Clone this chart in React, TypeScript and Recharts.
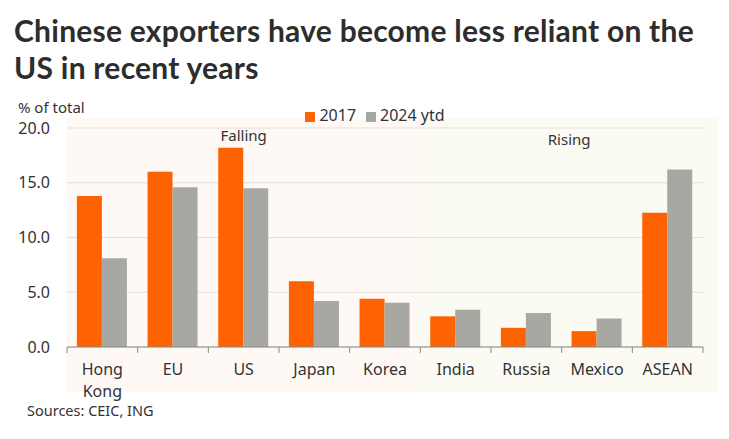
import React from 'react';
import { BarChart, Bar, XAxis, YAxis, CartesianGrid, ReferenceArea, Legend } from 'recharts';

const categories = ['Hong Kong', 'EU', 'US', 'Japan', 'Korea', 'India', 'Russia', 'Mexico', 'ASEAN'];
const values2017 = [13.8, 16.0, 18.2, 6.0, 4.4, 2.8, 1.75, 1.45, 12.25];
const values2024 = [8.1, 14.6, 14.5, 4.2, 4.05, 3.4, 3.1, 2.6, 16.2];
const yTicks = [0, 5, 10, 15, 20];

const data = categories.map((c, i) => ({ name: c, y2017: values2017[i], y2024: values2024[i] }));

const FONT = '"Noto Sans", sans-serif';
const TEXT = '#333333';

const XTick = (props: any) => {
  const { x, y, payload } = props;
  const off = payload && typeof payload.offset === 'number' && payload.offset > 0 ? payload.offset : 35.33;
  const words = String(payload.value).split(' ');
  return (
    <g>
      <line x1={x - off} x2={x - off} y1={y} y2={y + 6} stroke="#8a8a8a" strokeWidth={1} />
      {payload.value === 'ASEAN' && (
        <line x1={x + off} x2={x + off} y1={y} y2={y + 6} stroke="#8a8a8a" strokeWidth={1} />
      )}
      <text x={x} y={y + 28} textAnchor="middle" fill={TEXT} fontSize={16} fontFamily={FONT}>
        {words.map((w, i) => (
          <tspan key={i} x={x} dy={i === 0 ? 0 : 22}>{w}</tspan>
        ))}
      </text>
    </g>
  );
};

const ShadeShape = (extra: number) => (props: any) => {
  const { x, y, width, height, fill, fillOpacity } = props;
  return <rect x={x} y={y} width={width + extra} height={height} fill={fill} fillOpacity={fillOpacity} />;
};

export default function App() {
  return (
    <div style={{ position: 'absolute', left: 0, top: 0, width: 729, height: 439, background: '#fff', fontFamily: FONT }}>
      <div
        style={{
          position: 'absolute',
          left: 14,
          top: 12,
          fontFamily: 'Lato, sans-serif',
          fontWeight: 700,
          fontSize: 30,
          lineHeight: '36.5px',
          letterSpacing: 0.25,
          color: '#2d2d2d',
          whiteSpace: 'nowrap',
        }}
      >
        Chinese exporters have become less reliant on the
        <br />
        US in recent years
      </div>
      <div style={{ position: 'absolute', left: 18, top: 97, fontSize: 15, color: TEXT }}>% of total</div>
      <div style={{ position: 'absolute', left: 27, top: 400, fontSize: 14.5, color: TEXT }}>Sources: CEIC, ING</div>
      <BarChart
        width={729}
        height={439}
        data={data}
        margin={{ top: 128, right: 26, bottom: 62, left: 0 }}
        barCategoryGap="14%"
        barGap={0}
      >
        <ReferenceArea
          x1="Hong Kong"
          x2="Korea"
          y1={20.9}
          y2={-4.1}
          ifOverflow="visible"
          fill="#FF6200"
          fillOpacity={0.035}
          stroke="none"
          label={{ value: 'Falling', position: 'insideTop', offset: 12, fill: TEXT, fontSize: 15, fontFamily: FONT }}
        />
        <ReferenceArea
          x1="India"
          x2="ASEAN"
          y1={20.9}
          y2={-4.1}
          ifOverflow="visible"
          fill="#C8C864"
          fillOpacity={0.08}
          stroke="none"
          shape={ShadeShape(15)}
        />
        <ReferenceArea
          x1="India"
          x2="ASEAN"
          y1={20.9}
          y2={-4.1}
          ifOverflow="visible"
          fill="none"
          fillOpacity={0}
          stroke="none"
          shape={(p: any) => (
            <text x={p.x + (p.width + 15) / 2} y={p.y + 27} textAnchor="middle" fill={TEXT} fontSize={15} fontFamily={FONT}>Rising</text>
          )}
        />
        <CartesianGrid vertical={false} stroke="#e3e3e3" />
        <XAxis
          dataKey="name"
          interval={0}
          height={30}
          axisLine={{ stroke: '#8a8a8a' }}
          tickLine={false}
          tickSize={0}
          tickMargin={0}
          tick={<XTick />}
        />
        <YAxis
          width={67}
          domain={[0, 20]}
          ticks={yTicks}
          axisLine={false}
          tickLine={false}
          tickSize={6}
          tickMargin={11}
          tickFormatter={(v: number) => v.toFixed(1)}
          tick={{ fill: TEXT, fontSize: 16, fontFamily: FONT }}
        />
        <Legend
          verticalAlign="middle"
          align="center"
          layout="horizontal"
          iconType="square"
          iconSize={10}
          wrapperStyle={{ position: 'absolute', top: 104, left: 280, width: 200, height: 24 }}
          formatter={(value: string) => <span style={{ color: TEXT, fontSize: 16, fontFamily: FONT }}>{value}</span>}
        />
        <Bar dataKey="y2017" name="2017" fill="#FF6200" isAnimationActive={false} />
        <Bar dataKey="y2024" name="2024 ytd" fill="#A8A8A3" isAnimationActive={false} />
      </BarChart>
    </div>
  );
}
